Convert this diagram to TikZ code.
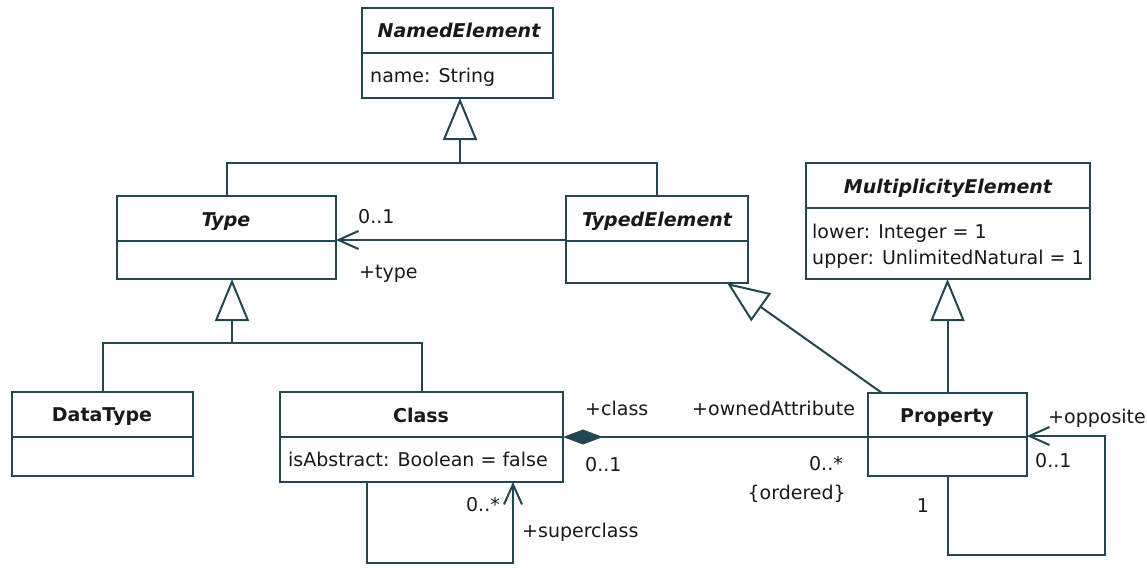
\documentclass[tikz,border=0pt]{standalone}
\usepackage{fontspec}
\setmainfont{DejaVu Sans}
\usetikzlibrary{arrows.meta,calc}
\definecolor{lc}{RGB}{35,70,80}
\definecolor{tc}{RGB}{25,25,25}
\tikzset{
 box/.style={draw=lc, line width=2pt, fill=white, anchor=north west, inner sep=0pt, outer sep=0pt},
 lbl/.style={font=\fontsize{19}{22}\selectfont, text=tc, inner sep=0pt},
 ttl/.style={lbl, font=\fontsize{19}{22}\selectfont\bfseries},
 attl/.style={lbl, font=\fontsize{19}{22}\selectfont\bfseries\itshape},
 conn/.style={draw=lc, line width=2pt},
 gen/.style={conn, -{Triangle[open, length=42pt, width=34pt, fill=white]}},
 nav/.style={conn, -{Straight Barb[length=20pt, width=18pt]}},
 comp/.style={conn, {Diamond[length=40pt, width=15pt, fill=lc]}-},
}
\begin{document}
\begin{tikzpicture}[x=1pt, y=-1pt]
\useasboundingbox[fill=white] (0,0) rectangle (1147,567);

% boxes
\node[box, minimum width=191pt, minimum height=90pt] (named) at (362,8) {};
\node[box, minimum width=219pt, minimum height=83pt] (type) at (117,196) {};
\node[box, minimum width=182pt, minimum height=87pt] (typedel) at (566,196) {};
\node[box, minimum width=284pt, minimum height=116pt] (mult) at (806,163) {};
\node[box, minimum width=181pt, minimum height=84pt] (datatype) at (12,392) {};
\node[box, minimum width=283pt, minimum height=90pt] (class) at (280,392) {};
\node[box, minimum width=159pt, minimum height=83pt] (prop) at (868,393) {};

% dividers
\draw[conn] (named.west |- 0,53) -- (named.east |- 0,53);
\draw[conn] (type.west |- 0,241) -- (type.east |- 0,241);
\draw[conn] (typedel.west |- 0,241) -- (typedel.east |- 0,241);
\draw[conn] (mult.west |- 0,208) -- (mult.east |- 0,208);
\draw[conn] (datatype.west |- 0,437) -- (datatype.east |- 0,437);
\draw[conn] (class.west |- 0,437) -- (class.east |- 0,437);
\draw[conn] (prop.west |- 0,437) -- (prop.east |- 0,437);

% titles
\node[attl, anchor=base] (namedT) at (459,38) {NamedElement};
\node[lbl, anchor=base west] (namedA) at (370,83) {name: String};
\node[attl, anchor=base] (typeT) at (226,226) {Type};
\node[attl, anchor=base] (typedelT) at (657,226) {TypedElement};
\node[attl, anchor=base] (multT) at (948,193) {MultiplicityElement};
\node[lbl, anchor=base west] (multA1) at (812,238) {lower: Integer = 1};
\node[lbl, anchor=base west] (multA2) at (812,264) {upper: UnlimitedNatural = 1};
\node[ttl, anchor=base] (datatypeT) at (102,421) {DataType};
\node[ttl, anchor=base] (classT) at (421,422) {Class};
\node[lbl, anchor=base west] (classA) at (288,466) {isAbstract: Boolean = false};
\node[ttl, anchor=base] (propT) at (947,422) {Property};

% generalizations
\coordinate (j1) at (460,163);
\draw[gen] (type.north) |- (j1) -- (j1 |- named.south);
\draw[conn] (typedel.north) |- (j1);
\coordinate (j2) at (232,343);
\draw[gen] (datatype.north) |- (j2) -- (j2 |- type.south);
\draw[conn] (class.north) |- (j2);
\draw[gen] (prop.north) -- (prop.north |- mult.south);
\draw[gen] ($(prop.north west)+(14,0)$) -- ($(typedel.south east)+(-21,0)$);

% associations
\draw[nav] (typedel.west |- 0,240) -- (type.east |- 0,240);
\draw[comp] (class.east |- 0,437) -- (prop.west |- 0,437);
\coordinate (sc) at (513,563);
\draw[nav] (class.south -| 367,0) |- (sc) -- (class.south -| sc);
\coordinate (op) at (1105,555);
\draw[nav] (prop.south) |- (op) |- (prop.east |- 0,436);

% association labels
\node[lbl, anchor=base west] (l1) at (358,223) {0..1};
\node[lbl, anchor=base west] (l2) at (359,278) {+type};
\node[lbl, anchor=base west] (l3) at (585,415) {+class};
\node[lbl, anchor=base west] (l4) at (585,471) {0..1};
\node[lbl, anchor=base west] (l5) at (692,415) {+ownedAttribute};
\node[lbl, anchor=base east] (l6) at (843,470) {0..*};
\node[lbl, anchor=base east] (l7) at (846,499) {\{ordered\}};
\node[lbl, anchor=base west] (l8) at (1048,423) {+opposite};
\node[lbl, anchor=base west] (l9) at (1035,467) {0..1};
\node[lbl, anchor=base] (l10) at (923,512) {1};
\node[lbl, anchor=base east] (l11) at (500,511) {0..*};
\node[lbl, anchor=base west] (l12) at (522,537) {+superclass};
\end{tikzpicture}
\end{document}
